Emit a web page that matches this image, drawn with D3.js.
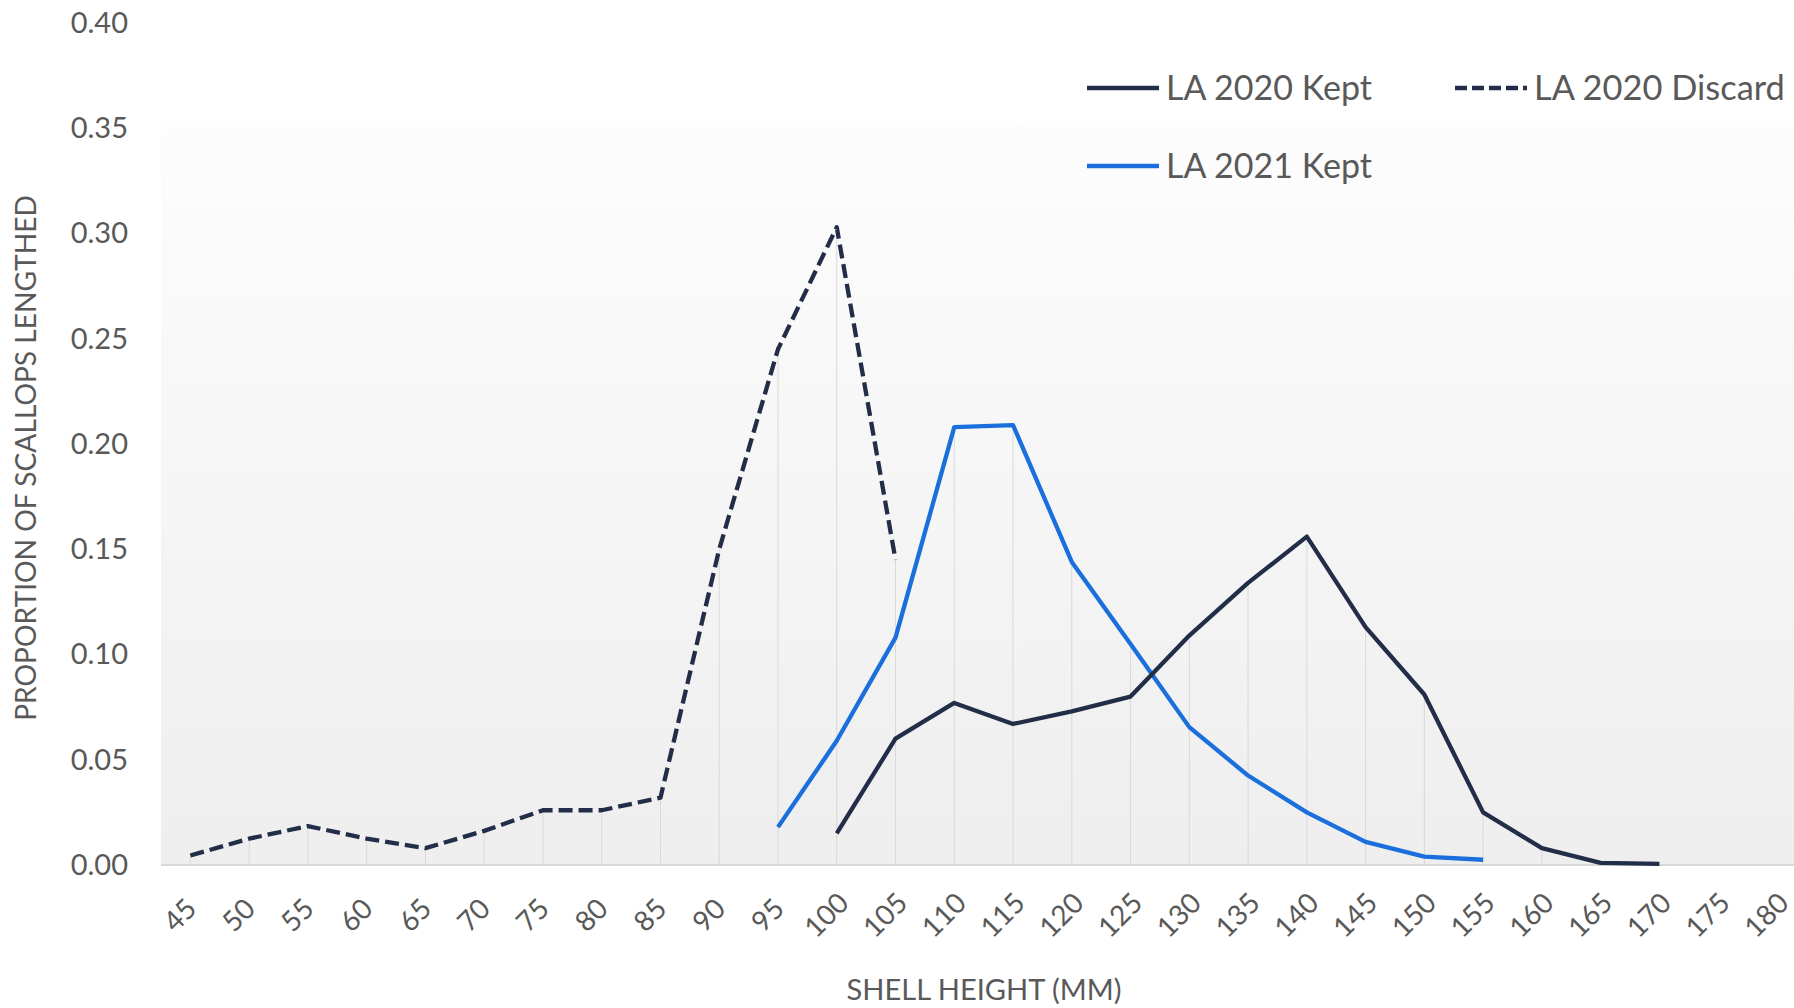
<!DOCTYPE html>
<html>
<head>
<meta charset="utf-8">
<script src="https://cdn.jsdelivr.net/npm/d3@7"></script>
<style>
  html, body { margin: 0; padding: 0; background: #ffffff; }
  svg { display: block; }
  text { font-family: Lato, "Open Sans", sans-serif; fill: #595959; }
</style>
</head>
<body>
<svg id="chart" width="1794" height="1008"></svg>
<script>
// ---- Data ----
const categories = [45, 50, 55, 60, 65, 70, 75, 80, 85, 90, 95, 100, 105, 110, 115, 120, 125, 130, 135, 140, 145, 150, 155, 160, 165, 170, 175, 180];
const kept2020 = [null, null, null, null, null, null, null, null, null, null, null, 0.015, 0.060, 0.077, 0.067, 0.073, 0.080, 0.109, 0.134, 0.156, 0.113, 0.081, 0.025, 0.008, 0.001, 0.0005, null, null];
const discard2020 = [0.0045, 0.0125, 0.0185, 0.0125, 0.008, 0.0162, 0.026, 0.026, 0.032, 0.150, 0.245, 0.303, 0.145, null, null, null, null, null, null, null, null, null, null, null, null, null, null, null];
const kept2021 = [null, null, null, null, null, null, null, null, null, null, 0.018, 0.059, 0.108, 0.208, 0.209, 0.144, 0.105, 0.0655, 0.0425, 0.025, 0.011, 0.004, 0.0025, null, null, null, null, null];
const yTicks = [0, 0.05, 0.10, 0.15, 0.20, 0.25, 0.30, 0.35, 0.40];
const seriesNames = ["LA 2020 Kept", "LA 2020 Discard", "LA 2021 Kept"];

const svg = d3.select("#chart");

// ---- Layout ----
const plotLeft = 161, step = 58.76, baseY = 865, topY = 23, panelTop = 122;
const x = d3.scalePoint().domain(categories).range([plotLeft, plotLeft + step * categories.length]).padding(0.5);
const y = d3.scaleLinear().domain([0, 0.40]).range([baseY, topY]);

// background gradient panel
const defs = svg.append("defs");
const grad = defs.append("linearGradient").attr("id", "bg").attr("x1", 0).attr("y1", 0).attr("x2", 0).attr("y2", 1);
grad.append("stop").attr("offset", "0%").attr("stop-color", "#fdfdfd");
grad.append("stop").attr("offset", "100%").attr("stop-color", "#eeeeee");
svg.append("rect").attr("x", plotLeft).attr("y", panelTop).attr("width", 1794 - plotLeft).attr("height", baseY - panelTop).attr("fill", "url(#bg)");

// drop lines (max of series at each category)
const allSeries = [kept2020, discard2020, kept2021];
const maxes = categories.map((c, i) => {
  const vals = allSeries.map(s => s[i]).filter(v => v != null);
  return vals.length ? d3.max(vals) : null;
});
svg.append("g").selectAll("line")
  .data(categories.map((c, i) => ({ c, v: maxes[i] })).filter(d => d.v != null))
  .join("line")
  .attr("x1", d => x(d.c)).attr("x2", d => x(d.c))
  .attr("y1", d => y(d.v)).attr("y2", baseY)
  .attr("stroke", "#d9d9d9").attr("stroke-width", 1);

// baseline
svg.append("line").attr("x1", plotLeft).attr("x2", 1794).attr("y1", baseY).attr("y2", baseY)
  .attr("stroke", "#d9d9d9").attr("stroke-width", 2);

// Y axis
const yAxis = svg.append("g").attr("transform", "translate(128,0)")
  .call(d3.axisLeft(y).tickValues(yTicks).tickFormat(d3.format(".2f")).tickSize(0).tickPadding(0));
yAxis.select(".domain").remove();
yAxis.selectAll("text").style("font-family", "Lato, sans-serif").style("font-size", "29px").attr("fill", "#595959");

// X axis
const xAxis = svg.append("g").attr("transform", `translate(0,${baseY})`)
  .call(d3.axisBottom(x).tickSize(0));
xAxis.select(".domain").remove();
xAxis.selectAll("text")
  .attr("y", 0).attr("dy", "0.35em")
  .attr("text-anchor", "middle")
  .attr("transform", "translate(-11,50) rotate(-45)")
  .style("font-family", "Lato, sans-serif").style("font-size", "28px").attr("fill", "#595959");

// Lines
const colDark = "#222d48", colBlue = "#1a6fdc";
const lw = 4.3, dashPat = "14,6";
const line = d3.line().defined(d => d.v != null).x(d => x(d.c)).y(d => y(d.v));
const toPts = s => categories.map((c, i) => ({ c, v: s[i] }));
svg.append("path").datum(toPts(discard2020)).attr("d", line).attr("fill", "none")
  .attr("stroke", colDark).attr("stroke-width", lw).attr("stroke-dasharray", dashPat).attr("stroke-linejoin", "round");
svg.append("path").datum(toPts(kept2021)).attr("d", line).attr("fill", "none")
  .attr("stroke", colBlue).attr("stroke-width", lw).attr("stroke-linejoin", "round");
svg.append("path").datum(toPts(kept2020)).attr("d", line).attr("fill", "none")
  .attr("stroke", colDark).attr("stroke-width", lw).attr("stroke-linejoin", "round");

// helper to fit text width
function fit(sel, target) {
  const w = sel.node().getComputedTextLength();
  const fs = parseFloat(sel.style("font-size"));
  sel.style("font-size", (fs * target / w) + "px");
}

// Legend
const legend = [
  { name: seriesNames[0], color: colDark, dash: null, lx: 1087, ly: 88, tw: 206 },
  { name: seriesNames[1], color: colDark, dash: "12,5", lx: 1455, ly: 88, tw: 251 },
  { name: seriesNames[2], color: colBlue, dash: null, lx: 1087, ly: 166, tw: 206 }
];
const lg = svg.append("g");
legend.forEach(d => {
  lg.append("line").attr("x1", d.lx).attr("x2", d.lx + 72).attr("y1", d.ly).attr("y2", d.ly)
    .attr("stroke", d.color).attr("stroke-width", lw).attr("stroke-dasharray", d.dash);
  const t = lg.append("text").attr("x", d.lx + 79).attr("y", d.ly).attr("dy", "0.35em")
    .style("font-size", "34px").text(d.name);
  fit(t, d.tw);
});

// Axis titles
const xt = svg.append("text").attr("x", 984).attr("y", 990).attr("dy", "0.35em").attr("text-anchor", "middle")
  .style("font-size", "28px").text("SHELL HEIGHT (MM)");
fit(xt, 275);
const yt = svg.append("text").attr("transform", "translate(26,458) rotate(-90)").attr("dy", "0.35em").attr("text-anchor", "middle")
  .style("font-size", "28px").text("PROPORTION OF SCALLOPS LENGTHED");
fit(yt, 526);
</script>
</body>
</html>
